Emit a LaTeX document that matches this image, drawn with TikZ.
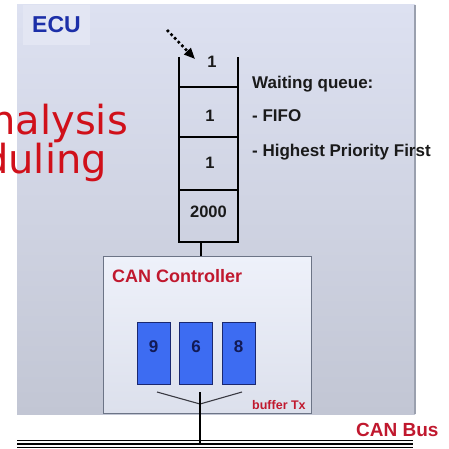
\documentclass[tikz,border=0pt]{standalone}
\usepackage{fontspec}
\setmainfont{Liberation Sans}
\newfontfamily\dejavu{DejaVu Sans}
\usetikzlibrary{arrows.meta}
\definecolor{ecutop}{HTML}{DDE1F1}
\definecolor{ecubot}{HTML}{C2C6D4}
\definecolor{ecuedge}{HTML}{9AA0AE}
\definecolor{labelfill}{HTML}{E3E6F3}
\definecolor{ecublue}{HTML}{1C2FA8}
\definecolor{bigred}{HTML}{D0101A}
\definecolor{crimson}{HTML}{C0182E}
\definecolor{ctrltop}{HTML}{EEF1FA}
\definecolor{ctrlbot}{HTML}{DCE0EC}
\definecolor{ctrledge}{HTML}{6C7486}
\definecolor{bufblue}{HTML}{3D6CF2}
\definecolor{bufedge}{HTML}{1A2870}
\definecolor{bufnum}{HTML}{121A55}
\definecolor{qtext}{HTML}{1A1A1A}
\definecolor{funnel}{HTML}{3A3A42}
\tikzset{
  fs/.style={font=\fontsize{#1}{#1}\selectfont\bfseries},
  qnum/.style={fs=16.5, text=qtext, inner sep=0, anchor=base},
  qline/.style={line width=1.8pt, black},
  qlabel/.style={fs=17, text=qtext, inner sep=0, anchor=base west},
  bufbox/.style={draw=bufedge, line width=0.9pt, fill=bufblue, minimum width=33pt,
    minimum height=62pt, inner sep=0, text=bufnum, font=\fontsize{17}{17}\selectfont\bfseries,
    text depth=13pt},
  redbig/.style={text=bigred, inner sep=0, anchor=base west,
    font=\dejavu\fontsize{40}{40}\selectfont},
  arrowdots/.style={line width=2.6pt, dash pattern=on 2.6pt off 2.6pt,
    -{Triangle[length=11pt,width=9pt]}},
}
\begin{document}
\begin{tikzpicture}[x=1pt,y=-1pt]
\useasboundingbox (0,0) rectangle (448,449);
\clip (0,0) rectangle (448,449);
\fill[white] (0,0) rectangle (448,449);
% ECU background
\fill[top color=ecutop, bottom color=ecubot] (17,5) rectangle (415,414);
\draw[ecuedge, line width=1.2pt] (415,5) -- (415,414);
\node[fill=labelfill, minimum width=67pt, minimum height=40pt, inner sep=0,
  text=ecublue, font=\fontsize{23}{23}\selectfont\bfseries] (ecu) at (56.5,25) {ECU};
% big red text
\node[redbig] (t1) at (-9.8,135) {nalysis};
\node[redbig] (t2) at (-17,173) {duling};
% queue
\coordinate (qtl) at (179,57);
\coordinate (qtr) at (238,57);
\coordinate (qbl) at (179,242);
\coordinate (qbr) at (238,242);
\coordinate (qbot) at (201,242);
\draw[qline] (qtl) -- (qbl) -- (qbr) -- (qtr);
\draw[qline] (179,87) -- (238,87);
\draw[qline] (179,137) -- (238,137);
\draw[qline] (179,190) -- (238,190);
\node[qnum] (n1) at (212,68) {1};
\node[qnum] (n2) at (210,122) {1};
\node[qnum] (n3) at (210,168) {1};
\node[qnum] (n4) at (208.5,217) {2000};
% incoming arrow
\coordinate (a0) at (167,30);
\coordinate (a1) at (195,59);
\draw[arrowdots] (a0) -- (a1);
% queue description
\node[qlabel] (w1) at (252,89) {Waiting queue:};
\node[qlabel] (w2) at (252,122) {- FIFO};
\node[qlabel] (w3) at (252,157) {- Highest Priority First};
% CAN controller
\node[draw=ctrledge, line width=1pt, top color=ctrltop, bottom color=ctrlbot,
  minimum width=208pt, minimum height=157pt, inner sep=0, anchor=north west] (ctrl) at (103,256) {};
\draw[line width=1.6pt] (qbot) -- (qbot |- ctrl.north);
\node[fs=18, text=crimson, inner sep=0, anchor=base west] (ctl) at (112,282) {CAN Controller};
\node[bufbox] (b1) at (153.5,353) {9};
\node[bufbox] (b2) at (196,353) {6};
\node[bufbox] (b3) at (238.5,353) {8};
\node[fs=12.5, text=crimson, inner sep=0, anchor=base west] (btx) at (252,409) {buffer Tx};
% funnel
\coordinate (f1) at (157,392);
\coordinate (fc) at (200,404);
\coordinate (f2) at (242,392);
\coordinate (ft) at (200,392);
\draw[funnel, line width=1.1pt] (f1) -- (fc) -- (f2);
% CAN bus
\coordinate (busL) at (17,444);
\coordinate (busR) at (413,444);
\draw[black, line width=8pt] (busL) -- (busR);
\draw[white!96!gray, line width=5.4pt] (busL) -- (busR);
\draw[black, line width=1.3pt] (busL) -- (busR);
\draw[black, line width=1.5pt] (ft) -- (ft |- busL);
\node[fs=19, text=crimson, inner sep=0, anchor=base west] (bus) at (356,436) {CAN Bus};
\end{tikzpicture}
\end{document}
